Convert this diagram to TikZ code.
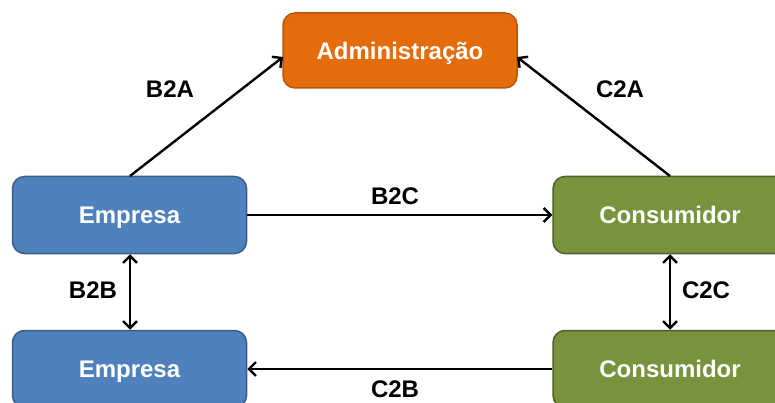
\documentclass[tikz,border=0pt]{standalone}
\usepackage{fontspec}
\setmainfont{Liberation Sans}
\usetikzlibrary{arrows.meta}
\definecolor{orangefill}{HTML}{E46C0A}
\definecolor{orangedraw}{HTML}{B65708}
\definecolor{bluefill}{HTML}{4F81BD}
\definecolor{bluedraw}{HTML}{385D8A}
\definecolor{greenfill}{HTML}{77933C}
\definecolor{greendraw}{HTML}{4F6228}
\tikzset{
  box/.style={rounded corners=12pt, line width=1.5pt, minimum width=234pt, minimum height=77pt,
    text=white, font=\fontsize{24}{27}\selectfont\bfseries, inner sep=0pt,
    text height=17.2pt, text depth=0pt},
  adminbox/.style={box, fill=orangefill, draw=orangedraw, minimum height=75pt},
  empbox/.style={box, fill=bluefill, draw=bluedraw},
  conbox/.style={box, fill=greenfill, draw=greendraw},
  conn/.style={line width=2.4pt, -{Straight Barb[length=7pt,width=14pt,line width=2.4pt]}},
  conn2/.style={line width=2.4pt, {Straight Barb[length=7pt,width=14pt,line width=2.4pt]}-{Straight Barb[length=7pt,width=14pt,line width=2.4pt]}},
  lbl/.style={font=\fontsize{24}{27}\selectfont\bfseries, text=black, text height=17.2pt, text depth=0pt}
}
\begin{document}
\begin{tikzpicture}[x=1pt,y=-1pt]
\clip (0,0) rectangle (775,403);
\node[adminbox] (adm) at (400,50.5) {Administração};
\node[empbox] (e1) at (129.5,215) {Empresa};
\node[empbox] (e2) at (129.5,369) {Empresa};
\node[conbox] (c1) at (670,215) {Consumidor};
\node[conbox] (c2) at (670,369) {Consumidor};
\coordinate (admL) at (283,57);
\coordinate (admR) at (517,57);
\coordinate (e1t) at (130,176);
\coordinate (c1t) at (670,176);
\draw[conn] (e1t) -- (admL);
\draw[conn] (c1t) -- (admR);
\draw[conn] (e1.east) -- (c1.west);
\draw[conn] (c2.west) -- (e2.east);
\draw[conn2] (e1.south -| e1t) -- (e2.north -| e1t);
\draw[conn2] (c1.south) -- (c2.north);
\node[lbl] (lb2a) at (170,89) {B2A};
\node[lbl] (lc2a) at (620,89) {C2A};
\node[lbl] (lb2c) at (395,196) {B2C};
\node[lbl] (lb2b) at (93,290) {B2B};
\node[lbl] (lc2c) at (706,290) {C2C};
\node[lbl] (lc2b) at (395,389) {C2B};
\end{tikzpicture}
\end{document}
